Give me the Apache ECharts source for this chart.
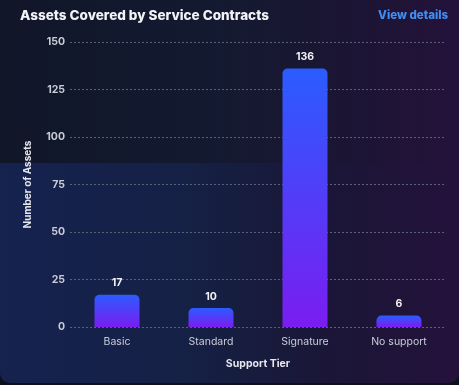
<!DOCTYPE html>
<html>
<head>
<meta charset="utf-8">
<script src="https://cdn.jsdelivr.net/npm/echarts@6/dist/echarts.min.js"></script>
<style>
  html, body { margin: 0; padding: 0; background: #0b0f1e; }
  #wrap {
    position: relative; width: 459px; height: 383px; overflow: hidden;
    border-radius: 0 0 10px 10px;
    background: linear-gradient(90deg, #111629 0%, #131a30 45%, #1b1533 75%, #24123a 100%);
  }
  #glow {
    position: absolute; left: 0; top: 163px; width: 459px; height: 220px;
    background: linear-gradient(90deg, rgba(25,45,110,0.55) 0%, rgba(25,45,110,0.35) 40%, rgba(30,25,80,0.15) 70%, rgba(40,15,70,0.1) 100%);
  }
  #chart { position: absolute; left: 0; top: 0; width: 459px; height: 385px; }
</style>
</head>
<body>
<div id="wrap"><div id="glow"></div><div id="chart"></div></div>
<script>
  const tiers = ['Basic', 'Standard', 'Signature', 'No support'];
  const assets = [17, 10, 136, 6];
  const yTicks = [0, 25, 50, 75, 100, 125, 150];

  var myChart = echarts.init(document.getElementById('chart'));
  var font = 'Inter, "Noto Sans", sans-serif';

  var option = {
    backgroundColor: 'transparent',
    textStyle: { fontFamily: font },
    title: [
      {
        text: 'Assets Covered by Service Contracts',
        left: 20, top: 9, padding: 0,
        textStyle: { color: '#f2f3f7', fontSize: 13.5, fontWeight: 800, fontFamily: font }
      },
      {
        text: 'View details',
        right: 11, top: 10, padding: 0,
        textStyle: { color: '#3f8ff2', fontSize: 11.5, fontWeight: 800, fontFamily: font }
      }
    ],
    grid: { left: 70, right: 13, top: 42, bottom: 58 },
    xAxis: {
      type: 'category',
      data: tiers,
      name: 'Support Tier',
      nameLocation: 'middle',
      nameGap: 31,
      nameTextStyle: { color: '#e6e7ee', fontSize: 10.5, fontWeight: 'bold' },
      axisLine: { show: false },
      axisTick: { show: false },
      axisLabel: { color: '#c9ccd8', fontSize: 10.5, margin: 9 }
    },
    yAxis: {
      type: 'value',
      min: yTicks[0],
      max: yTicks[yTicks.length - 1],
      interval: 25,
      name: 'Number of Assets',
      nameLocation: 'middle',
      nameGap: 37,
      nameTextStyle: { color: '#e6e7ee', fontSize: 10, fontWeight: 'bold' },
      axisLabel: { color: '#c9ccd8', fontSize: 10.5, fontWeight: 'bold', margin: 5 },
      splitLine: { lineStyle: { color: '#5b6079', type: [2, 2], width: 1 } }
    },
    series: [
      {
        type: 'bar',
        data: assets,
        barWidth: 45,
        label: {
          show: true,
          position: 'top',
          distance: 6,
          color: '#f2f3f7',
          fontSize: 10.5,
          fontWeight: 'bold'
        },
        itemStyle: {
          borderRadius: [5, 5, 0, 0],
          color: new echarts.graphic.LinearGradient(0, 0, 0, 1, [
            { offset: 0, color: '#2b5cff' },
            { offset: 1, color: '#7a1df0' }
          ])
        }
      }
    ]
  };

  myChart.setOption(option);
</script>
</body>
</html>
